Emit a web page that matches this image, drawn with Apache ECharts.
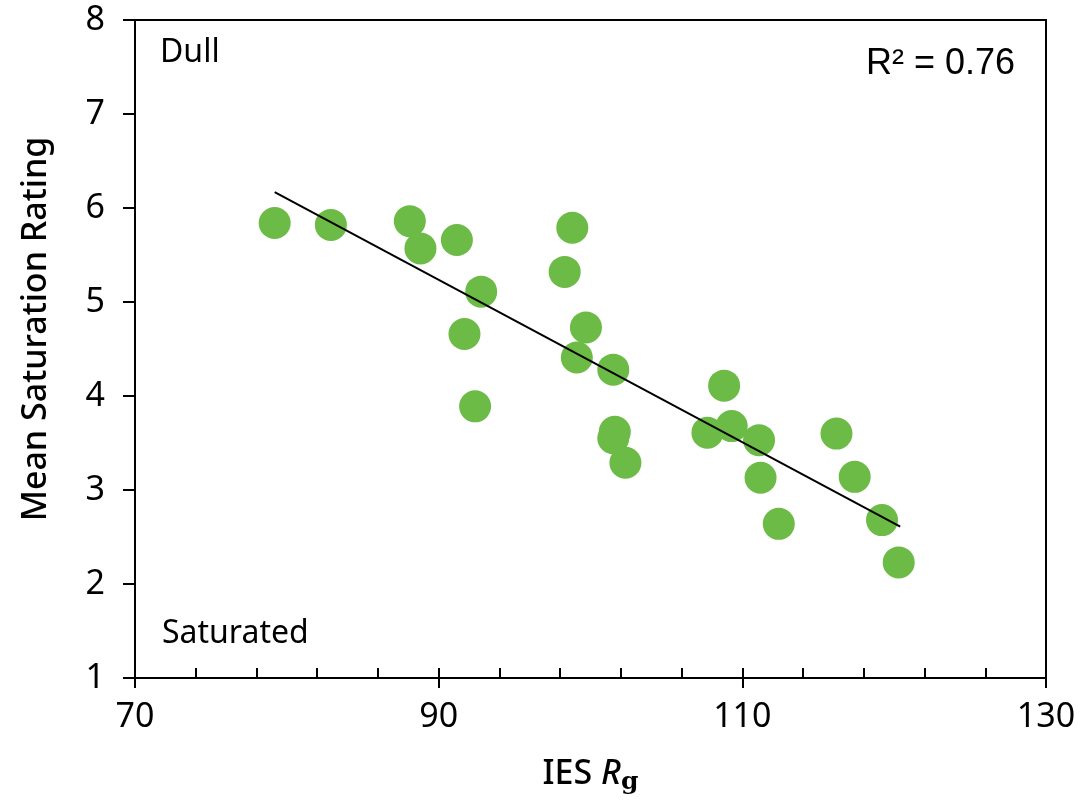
<!DOCTYPE html>
<html>
<head>
<meta charset="utf-8">
<script src="https://cdn.jsdelivr.net/npm/echarts@6/dist/echarts.min.js"></script>
<style>
  html, body { margin: 0; padding: 0; background: #fff; }
</style>
</head>
<body>
<div id="myChart" style="width: 1084px; height: 800px;"></div>
<script>
  // IES Rg of each light source
  var rgValues = [79.2, 82.9, 88.1, 88.8, 91.2, 92.8, 91.7, 92.4, 98.8, 98.3, 99.7, 99.1, 101.5,
    101.6, 101.5, 102.3, 107.7, 108.8, 109.3, 111.1, 111.2, 112.4, 116.2, 117.4, 119.2, 120.3]
  // mean saturation rating
  var ratingValues = [5.84, 5.82, 5.86, 5.57, 5.66, 5.11, 4.66, 3.89, 5.79, 5.32, 4.73, 4.41, 4.28,
    3.62, 3.55, 3.29, 3.61, 4.11, 3.68, 3.53, 3.13, 2.64, 3.60, 3.14, 2.68, 2.23]
  // linear fit end points
  var trendX = [79.2, 120.4]
  var trendY = [6.17, 2.61]
  var xTicks = [70, 90, 110, 130]
  var yTicks = [1, 2, 3, 4, 5, 6, 7, 8]

  var points = rgValues.map(function (x, i) { return [x, ratingValues[i]] })
  var trend = trendX.map(function (x, i) { return [x, trendY[i]] })

  var tickFont = 'Noto Sans'
  var chart = echarts.init(document.getElementById('myChart'))
  chart.setOption({
    animation: false,
    grid: {
      left: 135, right: 38, top: 20, bottom: 122,
      show: true, borderColor: '#000', borderWidth: 2
    },
    xAxis: [
      {
        type: 'value',
        min: xTicks[0], max: xTicks[xTicks.length - 1], interval: 20,
        splitLine: {show: false},
        axisLine: {lineStyle: {color: '#000', width: 2}},
        axisTick: {inside: false, length: 10, lineStyle: {color: '#000', width: 2}},
        axisLabel: {color: '#000', fontSize: 34, fontFamily: tickFont, margin: 22},
        name: '{n|IES }{r|R}{g|g}',
        nameLocation: 'middle',
        nameGap: 76,
        nameTextStyle: {
          rich: {
            n: {fontSize: 34, fontFamily: 'Noto Sans', fontWeight: 500, color: '#000'},
            r: {fontSize: 34, fontFamily: 'Noto Sans', fontWeight: 500, fontStyle: 'italic', color: '#000'},
            g: {fontSize: 25, fontFamily: 'DejaVu Serif', fontWeight: 'bold', color: '#000', padding: [16, 0, 0, 0]}
          }
        }
      },
      {
        // inside minor ticks every 4
        type: 'value',
        position: 'bottom',
        min: xTicks[0], max: xTicks[xTicks.length - 1], interval: 4,
        splitLine: {show: false},
        axisLine: {show: false},
        axisTick: {inside: true, length: 10, lineStyle: {color: '#000', width: 2}},
        axisLabel: {show: false}
      }
    ],
    yAxis: {
      type: 'value',
      min: yTicks[0], max: yTicks[yTicks.length - 1], interval: 1,
      splitLine: {show: false},
      axisLine: {lineStyle: {color: '#000', width: 2}},
      axisTick: {inside: false, length: 12, lineStyle: {color: '#000', width: 2}},
      axisLabel: {color: '#000', fontSize: 34, fontFamily: tickFont, margin: 30},
      name: 'Mean Saturation Rating',
      nameLocation: 'middle',
      nameGap: 82,
      nameTextStyle: {fontSize: 34, fontFamily: 'Noto Sans', fontWeight: 500, color: '#000', padding: [0, 0, 0, 40]}
    },
    graphic: [
      {type: 'text', left: 160, top: 37, style: {text: 'Dull', fontSize: 32, fontFamily: 'Noto Sans', fill: '#000'}},
      {type: 'text', left: 162, top: 618, style: {text: 'Saturated', fontSize: 32, fontFamily: 'Noto Sans', fill: '#000'}},
      {type: 'text', left: 866, top: 46, style: {text: 'R² = 0.76', fontSize: 36, fontFamily: 'Liberation Sans', fill: '#000'}}
    ],
    series: [
      {
        type: 'scatter',
        data: points,
        symbolSize: 32,
        itemStyle: {color: '#6bbb46', opacity: 1},
        z: 2
      },
      {
        type: 'line',
        data: trend,
        symbol: 'none',
        lineStyle: {color: '#000', width: 2},
        z: 3
      }
    ]
  })
</script>
</body>
</html>
